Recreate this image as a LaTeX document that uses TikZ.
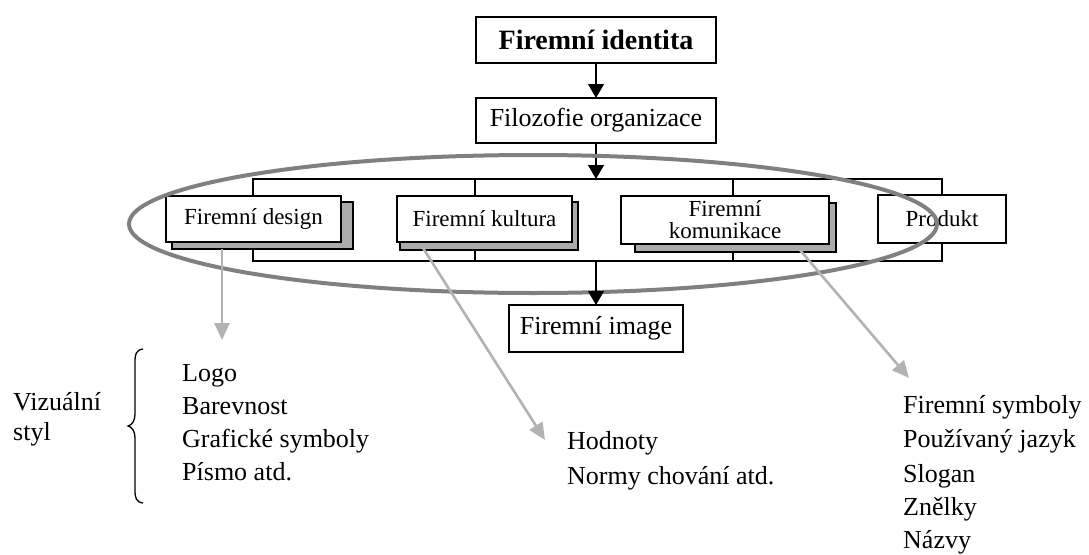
\documentclass[tikz,border=0pt]{standalone}
\usepackage{fontspec}
\setmainfont{Liberation Serif}
\usetikzlibrary{arrows.meta}
\begin{document}
\begin{tikzpicture}[x=1pt,y=-1pt,
  box/.style={draw,line width=1.4pt,fill=white,inner sep=0pt,outer sep=0pt,align=center},
  shadowbox/.style={draw,line width=1.2pt,fill=black!33},
  frame/.style={line width=1.2pt},
  blackarrow/.style={line width=1.2pt,-{Triangle[width=16pt,length=14pt]}},
  grayarrow/.style={line width=2.6pt,draw=black!30,-{Triangle[width=15pt,length=17pt,fill=black!30]}},
  ring/.style={draw=black!50,line width=4pt},
  lbl/.style={anchor=base west,inner sep=0pt,font=\fontsize{26}{34}\selectfont},
  bigtxt/.style={font=\fontsize{26}{30}\selectfont},
  smalltxt/.style={font=\fontsize{23}{22}\selectfont}
]
\useasboundingbox (0,0) rectangle (1089,554);

% frame behind the four boxes
\coordinate (ftop) at (597,179);
\coordinate (fbot) at (597,261);
\draw[frame] (253,179) rectangle (942,261);
\draw[frame] (475,179) -- (475,261);
\draw[frame] (733,179) -- (733,261);

% top boxes
\node[box,minimum width=240pt,minimum height=46pt,font=\fontsize{28}{30}\selectfont\bfseries] (ident) at (596,40) {Firemní identita};
\node[box,bigtxt,minimum width=240pt,minimum height=45pt] (filo) at (596,120.5) {Filozofie organizace};
\draw[blackarrow] (ident.south) -- (filo.north);
\draw[blackarrow] (filo.south) -- (filo.south |- ftop);

% shadows
\draw[shadowbox] (172,202) rectangle (353,249);
\draw[shadowbox] (400,202) rectangle (578,250);
\draw[shadowbox] (635,203) rectangle (836,252);

% middle boxes
\node[box,smalltxt,minimum width=175pt,minimum height=46pt] (design) at (253.5,219) {Firemní design};
\node[box,smalltxt,minimum width=175pt,minimum height=46pt] (kultura) at (484.5,219) {Firemní kultura};
\node[box,smalltxt,minimum width=208pt,minimum height=48pt] (komun) at (725,220) {Firemní\\komunikace};
\node[box,smalltxt,minimum width=128pt,minimum height=48pt] (produkt) at (942,219) {Produkt};

% ellipse
\draw[ring] (533,224) ellipse [x radius=404pt, y radius=69pt];

% bottom box
\node[box,bigtxt,minimum width=174pt,minimum height=47pt] (image) at (596,328.5) {Firemní image};
\draw[blackarrow] (image.north |- fbot) -- (image.north);

% gray arrows
\coordinate (dS) at (222,249);
\coordinate (dE) at (222,340);
\coordinate (kS) at (423,248);
\coordinate (kE) at (545,440);
\coordinate (cS) at (800,250);
\coordinate (cE) at (909,378);
\draw[grayarrow] (dS) -- (dE);
\draw[grayarrow] (kS) -- (kE);
\draw[grayarrow] (cS) -- (cE);

% left texts
\node[lbl] (viz1) at (13,410) {Vizuální};
\node[lbl] (viz2) at (13,440) {styl};
\draw[line width=1.3pt] (143,349) .. controls (136,350) and (135,354) .. (135,362) -- (135,414) .. controls (135,421) and (132,425) .. (128,426) .. controls (132,427) and (135,431) .. (135,438) -- (135,490) .. controls (135,498) and (136,502) .. (143,503);
\node[lbl] (l1) at (182,381) {Logo};
\node[lbl] (l2) at (182,414) {Barevnost};
\node[lbl] (l3) at (182,447) {Grafické symboly};
\node[lbl] (l4) at (182,480) {Písmo atd.};

% middle texts
\node[lbl] (m1) at (567,449) {Hodnoty};
\node[lbl] (m2) at (567,484) {Normy chování atd.};

% right texts
\node[lbl] (r1) at (903,413) {Firemní symboly};
\node[lbl] (r2) at (903,447) {Používaný jazyk};
\node[lbl] (r3) at (903,482) {Slogan};
\node[lbl] (r4) at (903,515) {Znělky};
\node[lbl] (r5) at (903,548) {Názvy};
\end{tikzpicture}
\end{document}
